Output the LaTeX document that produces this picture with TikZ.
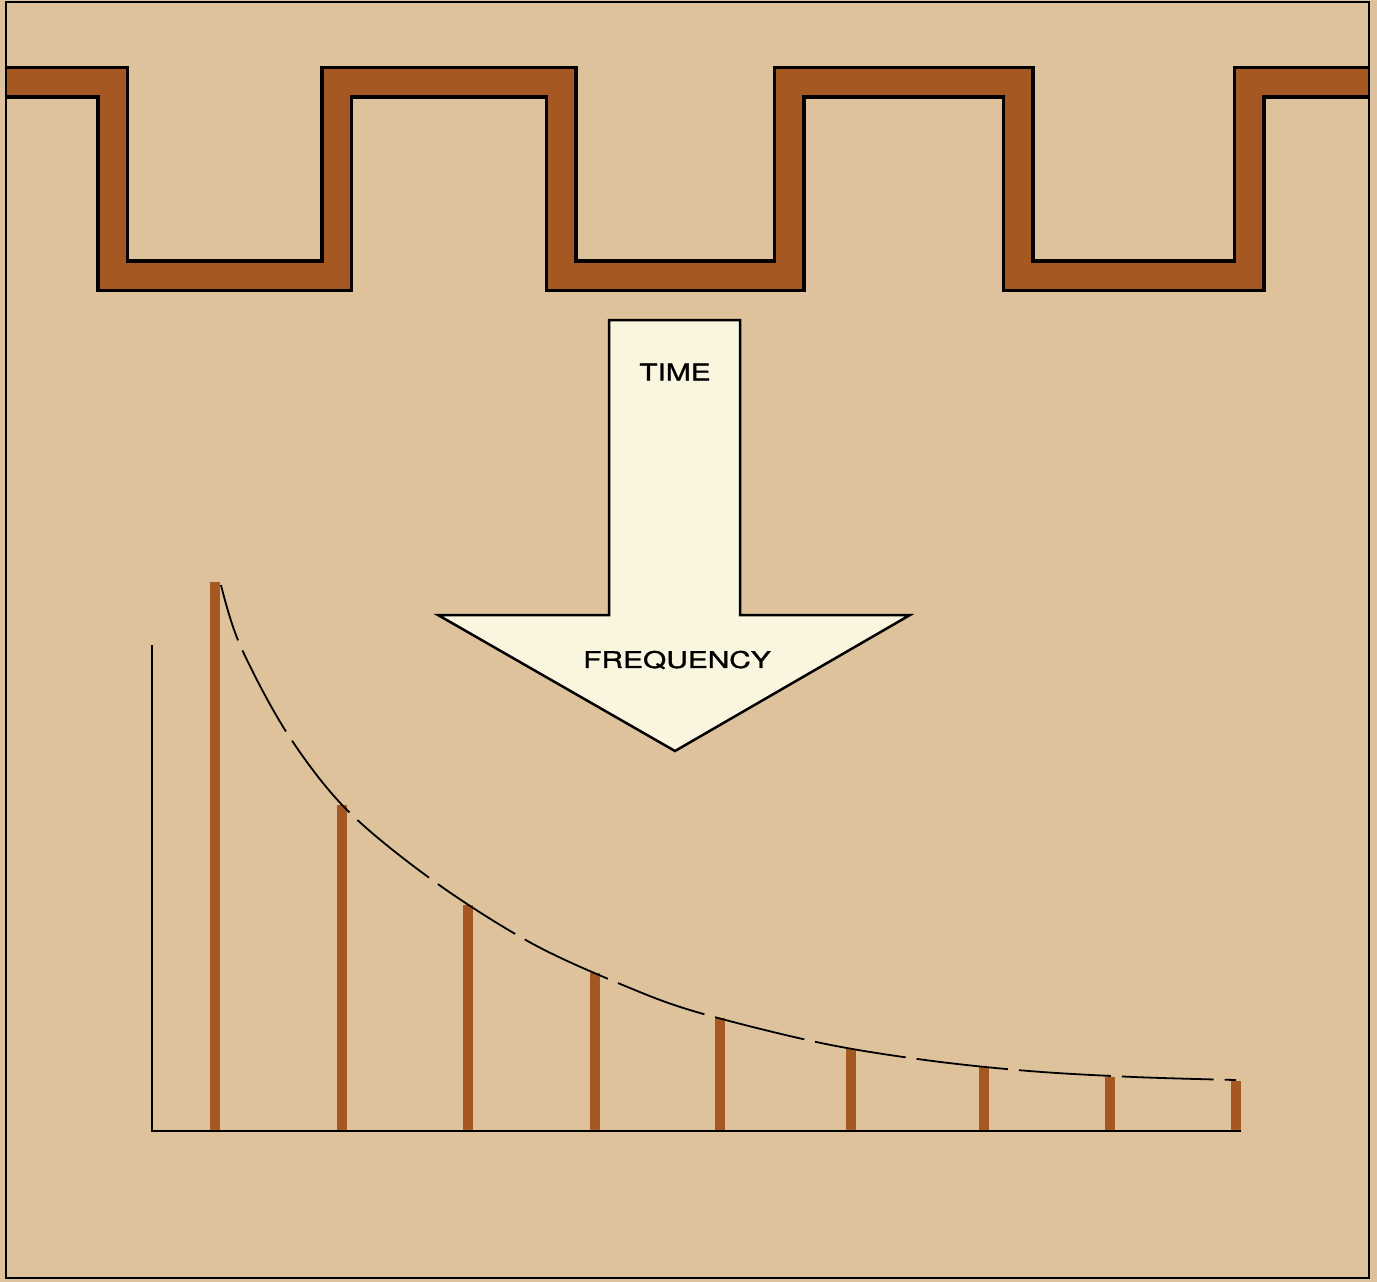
\documentclass[tikz,border=0pt]{standalone}
\usepackage{fontspec}
\newfontfamily\wavefont[FakeStretch=1.3,FakeBold=1.2]{TeX Gyre Heros}
\usepackage{xcolor}
\definecolor{paper}{RGB}{221,194,156}
\definecolor{rust}{RGB}{166,88,34}
\definecolor{cream}{RGB}{250,245,222}
\begin{document}
\begin{tikzpicture}[x=1pt,y=-1pt,
  wave outline/.style={line width=33pt,line join=miter,black},
  wave fill/.style={line width=26pt,line join=miter,rust},
  bar/.style={line width=10pt,rust},
  axis/.style={line width=1.6pt},
  every node/.style={font=\wavefont\fontsize{23}{23}\selectfont,inner sep=0pt}]
\fill[paper] (0,0) rectangle (1377,1282);
\useasboundingbox (0,0) rectangle (1377,1282);
% square wave
\begin{scope}
  \clip (6,2) rectangle (1369,1278);
  \foreach \s in {wave outline,wave fill}
    \draw[\s] (0,82) -- (112.5,82) -- (112.5,275.5) -- (336.5,275.5) -- (336.5,82)
      -- (561,82) -- (561,275.5) -- (789,275.5) -- (789,82) -- (1018,82)
      -- (1018,275.5) -- (1249,275.5) -- (1249,82) -- (1390,82);
\end{scope}
% arrow
\draw[fill=cream,line width=2.5pt,line join=miter] (609,320) -- (740,320) -- (740,615)
  -- (910,615) -- (675,751) -- (438,615) -- (609,615) -- cycle;
\node (time) at (675,372) {TIME};
\node (freq) at (677,660) {FREQUENCY};
% spectrum
\foreach \x/\y in {215/582,342/805,468/905,595/973,720/1018,851/1049,984/1067,1110/1077,1236/1081}
  \draw[bar] (\x,1131) -- (\x,\y);
\draw[axis] (152,645) -- (152,1131) -- (1241,1131);
\draw[line width=1.8pt,dash pattern=on 92pt off 11pt,dash phase=34pt] plot[smooth,tension=0.55] coordinates
  {(221,585) (240,645) (287,733) (347,810) (435,882) (533,944) (630,988) (700,1013)
   (821,1043) (925,1060) (1029,1071) (1134,1077) (1236,1080)};
\draw[line width=1.5pt] (6,2) rectangle (1369,1278);
\end{tikzpicture}
\end{document}
